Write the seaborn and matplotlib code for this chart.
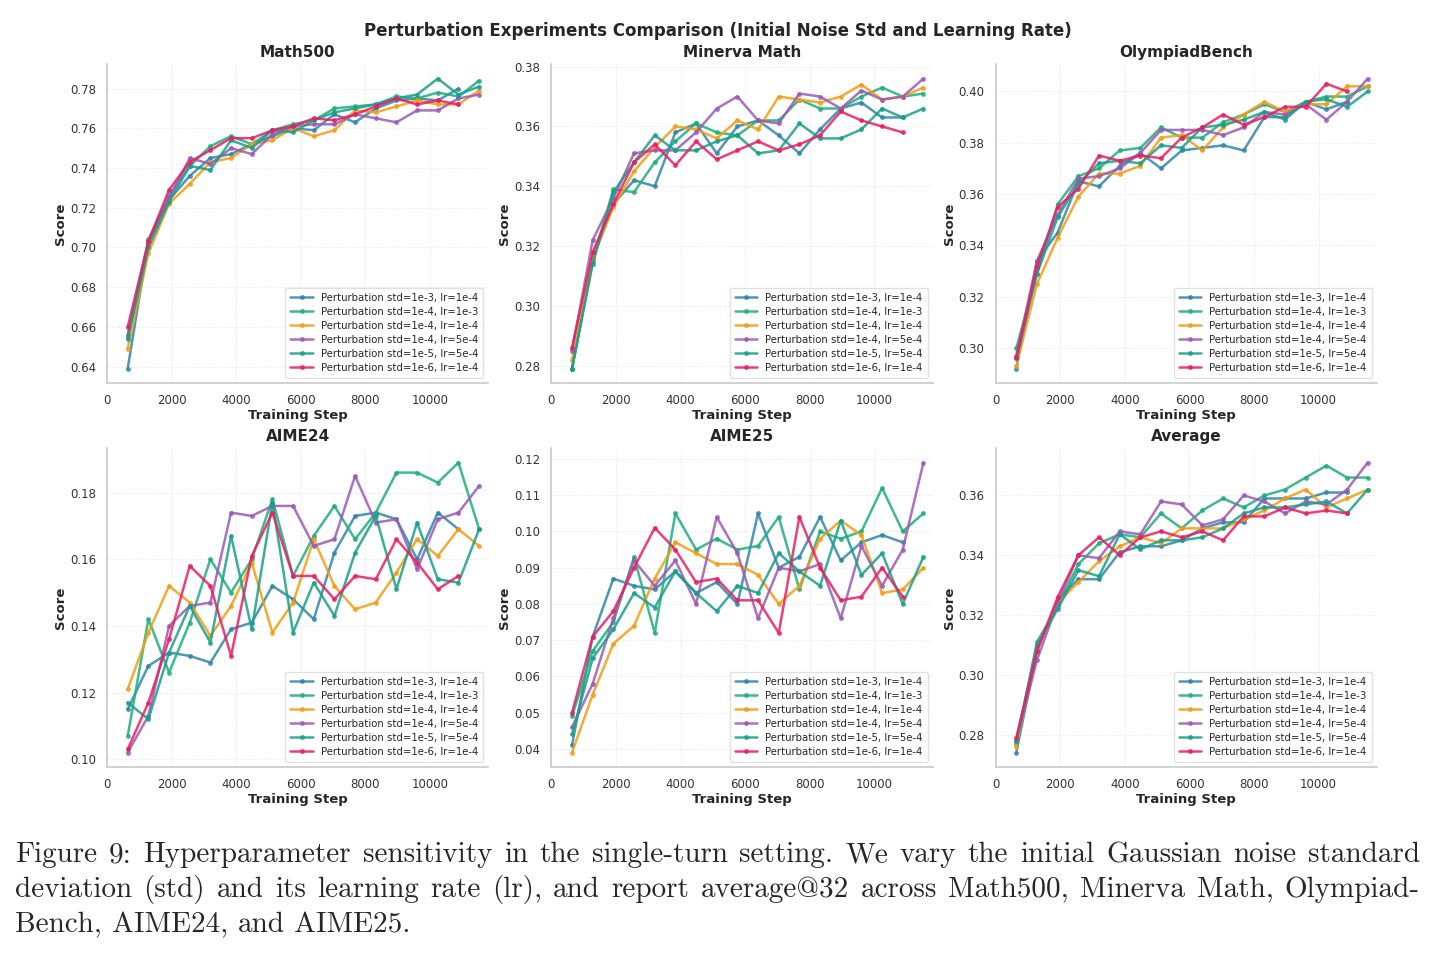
import matplotlib
matplotlib.use("Agg")
import matplotlib.pyplot as plt
import seaborn as sns
import pandas as pd

# training steps (blue and red runs stop one checkpoint earlier)
steps = [640, 1280, 1920, 2560, 3200, 3840, 4480, 5120, 5760, 6400,
         7040, 7680, 8320, 8960, 9600, 10240, 10880, 11520]

run_labels = [
    'Perturbation std=1e-3, lr=1e-4',
    'Perturbation std=1e-4, lr=1e-3',
    'Perturbation std=1e-4, lr=1e-4',
    'Perturbation std=1e-4, lr=5e-4',
    'Perturbation std=1e-5, lr=5e-4',
    'Perturbation std=1e-6, lr=1e-4',
]
run_colors = ['#2E86AB', '#1DAE7C', '#F39C12', '#9B59B6', '#17A08A', '#E91E63']

# one row per run, same order as run_labels
math500 = [
    [0.639, 0.703, 0.724, 0.736, 0.745, 0.747, 0.752, 0.756, 0.760, 0.759, 0.767, 0.763, 0.770, 0.774, 0.775, 0.774, 0.780],
    [0.655, 0.704, 0.726, 0.741, 0.751, 0.756, 0.752, 0.759, 0.762, 0.764, 0.770, 0.771, 0.772, 0.776, 0.775, 0.778, 0.776, 0.784],
    [0.649, 0.697, 0.722, 0.732, 0.743, 0.745, 0.752, 0.754, 0.760, 0.756, 0.759, 0.769, 0.768, 0.771, 0.774, 0.772, 0.772, 0.779],
    [0.656, 0.702, 0.725, 0.745, 0.742, 0.750, 0.747, 0.757, 0.761, 0.762, 0.762, 0.767, 0.765, 0.763, 0.769, 0.769, 0.775, 0.777],
    [0.654, 0.700, 0.723, 0.741, 0.739, 0.754, 0.750, 0.759, 0.758, 0.764, 0.768, 0.770, 0.772, 0.775, 0.777, 0.785, 0.777, 0.781],
    [0.660, 0.703, 0.729, 0.743, 0.749, 0.755, 0.755, 0.759, 0.761, 0.765, 0.764, 0.767, 0.771, 0.775, 0.772, 0.774, 0.772],
]
minerva = [
    [0.279, 0.316, 0.334, 0.342, 0.340, 0.358, 0.361, 0.351, 0.360, 0.362, 0.357, 0.351, 0.359, 0.366, 0.368, 0.363, 0.363],
    [0.279, 0.315, 0.339, 0.338, 0.348, 0.355, 0.361, 0.358, 0.357, 0.362, 0.362, 0.369, 0.366, 0.366, 0.370, 0.373, 0.370, 0.371],
    [0.282, 0.316, 0.333, 0.345, 0.353, 0.360, 0.359, 0.356, 0.362, 0.359, 0.370, 0.369, 0.368, 0.370, 0.374, 0.369, 0.370, 0.373],
    [0.285, 0.322, 0.336, 0.351, 0.352, 0.352, 0.358, 0.366, 0.370, 0.362, 0.361, 0.371, 0.370, 0.366, 0.372, 0.369, 0.370, 0.376],
    [0.279, 0.314, 0.338, 0.348, 0.357, 0.352, 0.352, 0.355, 0.357, 0.351, 0.352, 0.361, 0.356, 0.356, 0.359, 0.366, 0.363, 0.366],
    [0.286, 0.318, 0.334, 0.348, 0.354, 0.347, 0.355, 0.349, 0.352, 0.355, 0.352, 0.354, 0.357, 0.365, 0.362, 0.360, 0.358],
]
olympiad = [
    [0.292, 0.334, 0.345, 0.365, 0.363, 0.371, 0.376, 0.370, 0.377, 0.378, 0.379, 0.377, 0.390, 0.390, 0.396, 0.393, 0.396],
    [0.300, 0.329, 0.356, 0.367, 0.370, 0.377, 0.378, 0.386, 0.382, 0.382, 0.388, 0.391, 0.395, 0.392, 0.396, 0.398, 0.398, 0.402],
    [0.293, 0.325, 0.343, 0.359, 0.368, 0.368, 0.371, 0.382, 0.383, 0.377, 0.386, 0.391, 0.396, 0.392, 0.395, 0.395, 0.402, 0.402],
    [0.297, 0.334, 0.352, 0.366, 0.367, 0.370, 0.376, 0.385, 0.385, 0.385, 0.383, 0.386, 0.392, 0.391, 0.395, 0.389, 0.396, 0.405],
    [0.296, 0.329, 0.351, 0.364, 0.372, 0.373, 0.372, 0.379, 0.378, 0.386, 0.387, 0.389, 0.392, 0.389, 0.396, 0.397, 0.394, 0.400],
    [0.296, 0.332, 0.355, 0.362, 0.375, 0.373, 0.375, 0.374, 0.382, 0.386, 0.391, 0.387, 0.390, 0.394, 0.394, 0.403, 0.400],
]
aime24 = [
    [0.115, 0.128, 0.132, 0.131, 0.129, 0.139, 0.141, 0.152, 0.148, 0.142, 0.162, 0.173, 0.174, 0.172, 0.160, 0.174, 0.169],
    [0.107, 0.142, 0.126, 0.141, 0.160, 0.150, 0.160, 0.178, 0.155, 0.167, 0.176, 0.166, 0.174, 0.186, 0.186, 0.183, 0.189, 0.169],
    [0.121, 0.138, 0.152, 0.147, 0.137, 0.146, 0.159, 0.138, 0.147, 0.166, 0.152, 0.145, 0.147, 0.156, 0.166, 0.161, 0.169, 0.164],
    [0.102, 0.113, 0.140, 0.146, 0.147, 0.174, 0.173, 0.176, 0.176, 0.164, 0.166, 0.185, 0.171, 0.172, 0.157, 0.172, 0.174, 0.182],
    [0.117, 0.112, 0.132, 0.146, 0.135, 0.167, 0.139, 0.177, 0.138, 0.153, 0.143, 0.162, 0.173, 0.151, 0.171, 0.154, 0.153, 0.169],
    [0.103, 0.117, 0.136, 0.158, 0.152, 0.131, 0.161, 0.174, 0.155, 0.155, 0.148, 0.155, 0.154, 0.166, 0.159, 0.151, 0.155],
]
aime25 = [
    [0.041, 0.071, 0.087, 0.085, 0.084, 0.089, 0.083, 0.086, 0.080, 0.105, 0.090, 0.093, 0.104, 0.092, 0.097, 0.099, 0.097],
    [0.049, 0.067, 0.075, 0.093, 0.072, 0.105, 0.095, 0.098, 0.095, 0.096, 0.104, 0.084, 0.100, 0.098, 0.100, 0.112, 0.100, 0.105],
    [0.039, 0.055, 0.069, 0.074, 0.087, 0.097, 0.094, 0.091, 0.091, 0.088, 0.080, 0.085, 0.098, 0.103, 0.099, 0.083, 0.084, 0.090],
    [0.046, 0.058, 0.076, 0.092, 0.085, 0.092, 0.080, 0.104, 0.094, 0.076, 0.090, 0.089, 0.091, 0.076, 0.096, 0.085, 0.095, 0.119],
    [0.044, 0.065, 0.073, 0.083, 0.079, 0.089, 0.083, 0.078, 0.085, 0.083, 0.094, 0.089, 0.085, 0.103, 0.088, 0.094, 0.080, 0.093],
    [0.050, 0.071, 0.078, 0.090, 0.101, 0.095, 0.086, 0.087, 0.081, 0.081, 0.072, 0.104, 0.090, 0.081, 0.082, 0.090, 0.082],
]
average = [
    [0.274, 0.308, 0.325, 0.332, 0.332, 0.341, 0.343, 0.343, 0.345, 0.349, 0.351, 0.351, 0.359, 0.359, 0.359, 0.361, 0.361],
    [0.277, 0.311, 0.323, 0.337, 0.344, 0.347, 0.346, 0.354, 0.349, 0.355, 0.359, 0.356, 0.360, 0.362, 0.366, 0.370, 0.366, 0.366],
    [0.276, 0.309, 0.324, 0.331, 0.338, 0.343, 0.346, 0.344, 0.349, 0.349, 0.349, 0.352, 0.355, 0.359, 0.362, 0.356, 0.359, 0.362],
    [0.278, 0.305, 0.324, 0.340, 0.339, 0.348, 0.347, 0.358, 0.357, 0.350, 0.352, 0.360, 0.358, 0.354, 0.358, 0.357, 0.362, 0.371],
    [0.278, 0.310, 0.322, 0.335, 0.333, 0.347, 0.342, 0.345, 0.345, 0.346, 0.349, 0.354, 0.356, 0.356, 0.357, 0.358, 0.354, 0.362],
    [0.279, 0.308, 0.326, 0.340, 0.346, 0.340, 0.346, 0.348, 0.346, 0.348, 0.345, 0.353, 0.353, 0.356, 0.354, 0.355, 0.354],
]

panels = [('Math500', math500), ('Minerva Math', minerva), ('OlympiadBench', olympiad),
          ('AIME24', aime24), ('AIME25', aime25), ('Average', average)]

caption_lines = [
    'Figure 9: Hyperparameter sensitivity in the single-turn setting. We vary the initial Gaussian noise standard',
    'deviation (std) and its learning rate (lr), and report average@32 across Math500, Minerva Math, Olympiad-',
    'Bench, AIME24, and AIME25.',
]

sns.set_theme(style='whitegrid')
plt.rcParams['font.family'] = ['DejaVu Sans']

fig, axes = plt.subplots(2, 3, figsize=(14.35, 9.57), dpi=100)
fig.subplots_adjust(left=0.0746, right=0.9596, top=0.933, bottom=0.1985,
                    wspace=0.165, hspace=0.204)

for ax, (name, runs) in zip(axes.flat, panels):
    for label, color, vals in zip(run_labels, run_colors, runs):
        df = pd.DataFrame({'step': steps[:len(vals)], 'score': vals})
        sns.lineplot(data=df, x='step', y='score', ax=ax, color=color, label=label,
                     marker='o', markersize=3.5, markeredgewidth=0,
                     linewidth=1.8, alpha=0.85)
    ax.set_xlim(0, steps[-1] * 1.025)
    ax.set_title(name, fontsize=11, fontweight='bold', pad=5)
    ax.set_xlabel('Training Step', fontsize=9.5, fontweight='bold', labelpad=1)
    ax.set_ylabel('Score', fontsize=9.5, fontweight='bold', labelpad=2)
    ax.tick_params(labelsize=8.5, pad=2, colors='#333333')
    ax.grid(True, linestyle='--', linewidth=0.6, alpha=0.35)
    sns.despine(ax=ax)
    for side in ['left', 'bottom']:
        ax.spines[side].set_color('#cccccc')
    ax.legend(loc='lower right', fontsize=7.3, frameon=True, framealpha=0.9,
              edgecolor='#dddddd', handlelength=2.2, borderpad=0.5, labelspacing=0.4)

fig.suptitle('Perturbation Experiments Comparison (Initial Noise Std and Learning Rate)',
             fontsize=12, fontweight='bold', y=0.977)

# caption, justified like the paper text
cap_family = ['cmr10', 'DejaVu Serif']
cap_size = 21
x_left, x_right = 15 / 1435, 1420 / 1435
line_y = [1 - 855 / 957, 1 - 890 / 957, 1 - 925 / 957]
renderer = fig.canvas.get_renderer()
space_w = fig.text(0, 0, 'a a', fontsize=cap_size, family=cap_family, alpha=0)
space_w = (space_w.get_window_extent(renderer).width
           - 2 * fig.text(0, 0, 'a', fontsize=cap_size, family=cap_family,
                          alpha=0).get_window_extent(renderer).width) / fig.bbox.width
for i, (line, y) in enumerate(zip(caption_lines, line_y)):
    words = line.split(' ')
    texts = [fig.text(0, y, w, fontsize=cap_size, family=cap_family, va='center', ha='left')
             for w in words]
    widths = [t.get_window_extent(renderer).width / fig.bbox.width for t in texts]
    if i < len(caption_lines) - 1:
        gap = (x_right - x_left - sum(widths)) / (len(words) - 1)
    else:
        gap = max(space_w, 0.006)
    x = x_left
    for t, w in zip(texts, widths):
        t.set_x(x)
        x += w + gap

fig.savefig('out.png', dpi=100)
